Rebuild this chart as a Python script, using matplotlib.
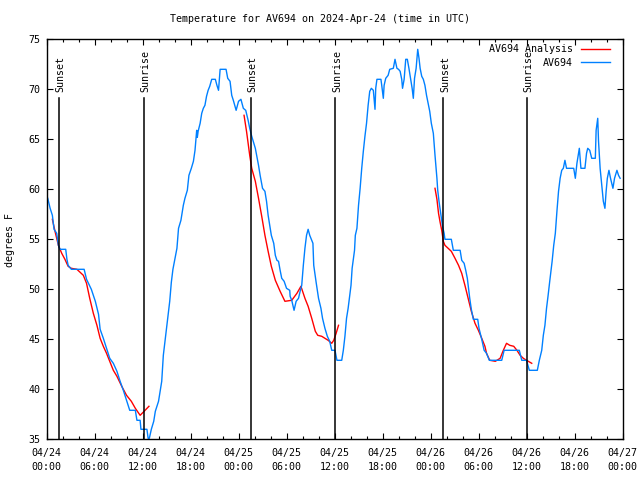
import numpy as np
import pandas as pd
import matplotlib
matplotlib.use("Agg")
import matplotlib.pyplot as plt
import matplotlib.dates as mdates

# hours after 2024-04-24 00:00 UTC
obs_hours = [0.15, 0.45, 0.73, 0.94, 1.27, 1.48, 1.69, 2.40, 2.55, 2.70, 3.10, 4.70, 5.00, 5.30,
             5.60, 6.10, 6.50, 6.70, 7.10, 7.50, 7.90, 8.35, 8.80, 9.20, 9.60, 10.00, 10.40, 11.10,
             11.30, 11.70, 11.80, 12.55, 12.70, 12.85, 13.10, 13.40, 13.60, 14.00, 14.40, 14.60,
             15.00, 15.40, 15.60, 15.80, 16.30, 16.50, 16.80, 17.10, 17.30, 17.60, 17.80, 18.10,
             18.36, 18.56, 18.77, 18.85, 18.95, 19.20, 19.40, 19.60, 19.80, 20.00, 20.20, 20.40,
             20.65, 21.10, 21.30, 21.50, 21.70, 22.44, 22.65, 22.94, 23.15, 23.35, 23.70, 24.00,
             24.30, 24.60, 24.90, 25.20, 25.40, 25.65, 26.10, 26.27, 26.50, 26.70, 27.00, 27.30,
             27.50, 27.70, 27.90, 28.10, 28.40, 28.60, 28.80, 29.00, 29.20, 29.40, 29.70, 30.00,
             30.40, 30.45, 30.65, 30.94, 31.20, 31.50, 31.70, 31.90, 32.10, 32.30, 32.50, 32.70,
             32.90, 33.30, 33.40, 33.70, 34.00, 34.30, 34.50, 34.80, 35.10, 35.40, 35.65, 36.06,
             36.30, 36.90, 37.10, 37.30, 37.50, 37.70, 37.90, 38.06, 38.20, 38.50, 38.60, 38.80,
             39.00, 39.20, 39.40, 39.60, 39.80, 40.00, 40.20, 40.40, 40.60, 40.85, 41.06, 41.15,
             41.30, 41.80, 41.90, 42.10, 42.20, 42.40, 42.70, 42.90, 43.35, 43.56, 43.80, 44.00,
             44.20, 44.40, 44.50, 44.70, 44.90, 45.10, 45.30, 45.50, 45.70, 45.85, 46.00, 46.20,
             46.40, 46.56, 46.70, 46.90, 47.10, 47.30, 47.50, 47.70, 47.90, 48.10, 48.35, 48.56,
             48.80, 48.90, 49.06, 49.30, 49.50, 49.70, 49.80, 50.60, 50.85, 51.70, 51.90, 52.20,
             52.40, 52.60, 52.80, 52.90, 53.10, 53.35, 53.90, 54.06, 54.40, 54.70, 55.00, 55.35,
             56.90, 57.20, 59.10, 59.40, 60.00, 60.35, 61.35, 61.60, 61.90, 62.10, 62.30, 62.50,
             62.70, 62.90, 63.20, 63.40, 63.60, 63.80, 64.00, 64.20, 64.40, 64.60, 64.80, 65.00,
             65.90, 66.10, 66.30, 66.50, 66.60, 66.80, 67.30, 67.50, 67.65, 67.90, 68.15, 68.60,
             68.70, 68.90, 69.00, 69.20, 69.40, 69.60, 69.80, 69.95, 70.10, 70.30, 70.50, 70.80,
             71.00, 71.30, 71.50, 71.70]
obs_temps = [59.1, 58.1, 57.4, 56.0, 55.6, 54.4, 54.0, 54.0, 53.0, 52.4, 52.0, 52.0, 51.0, 50.5,
             50.0, 48.8, 47.5, 46.0, 45.1, 44.1, 43.1, 42.6, 41.8, 40.8, 39.9, 38.9, 37.9, 37.9,
             36.9, 36.9, 36.0, 36.0, 35.1, 35.1, 36.0, 36.8, 37.8, 38.8, 40.8, 43.4,
             46.1, 48.8, 50.7, 52.0, 54.1, 56.1, 56.9, 58.4, 59.1, 59.9, 61.4, 62.1,
             62.8, 63.9, 65.9, 65.2, 65.8, 66.6, 67.6, 68.1, 68.4, 69.3, 69.9, 70.3,
             71.0, 71.0, 70.4, 69.9, 72.0, 72.0, 71.1, 70.8, 69.4, 68.9, 67.9, 68.8,
             69.0, 68.1, 67.9, 66.9, 66.1, 65.3, 64.1, 63.4, 62.4, 61.4, 60.1, 59.8,
             58.8, 57.4, 56.4, 55.4, 54.6, 53.4, 52.9, 52.8, 51.9, 51.1, 50.8, 50.1,
             49.9, 49.3, 48.9, 47.9, 48.8, 49.1, 49.8, 50.4, 52.4, 54.1, 55.4, 56.0,
             55.4, 54.6, 52.4, 50.7, 49.1, 48.1, 47.1, 46.1, 45.3, 44.8, 43.9, 43.9,
             42.9, 42.9, 43.9, 45.3, 47.1, 48.1, 49.4, 50.4, 52.1, 53.9, 55.4, 56.1,
             58.4, 60.1, 62.1, 63.8, 65.3, 66.6, 68.4, 69.8, 70.1, 69.9, 68.0, 70.1,
             71.0, 71.0, 70.4, 69.1, 70.4, 71.1, 71.4, 72.0, 72.1, 73.0, 72.1, 72.0,
             71.8, 71.0, 70.1, 71.0, 73.0, 73.0, 72.1, 71.1, 70.1, 69.1, 71.1, 72.1,
             74.0, 73.1, 72.1, 71.3, 71.0, 70.4, 69.4, 68.6, 67.8, 66.6, 65.6, 63.4,
             61.1, 59.9, 58.8, 57.4, 56.3, 55.6, 55.0, 55.0, 53.9, 53.9, 52.9, 52.6,
             51.9, 51.1, 49.8, 49.1, 48.0, 47.0, 47.0, 46.1, 45.0, 43.9, 43.6, 42.9,
             42.9, 43.9, 43.9, 42.9, 42.9, 41.9, 41.9, 42.9, 43.9, 45.4, 46.4, 48.1,
             49.4, 50.8, 52.8, 54.4, 55.6, 57.8, 59.8, 61.1, 61.9, 62.1, 62.9, 62.1,
             62.1, 61.1, 62.6, 63.6, 64.1, 62.1, 62.1, 63.6, 64.1, 63.9, 63.1, 63.1,
             65.9, 67.1, 64.8, 62.1, 60.4, 58.8, 58.1, 59.8, 61.1, 61.9, 61.1, 60.1,
             61.1, 61.9, 61.4, 61.1]

# analysis series, nan marks a break between runs
ana_hours = [0.73, 1.06, 1.48, 1.90, 2.30, 2.70, 3.10, 3.80, 4.20, 4.60, 5.00, 5.40, 5.85, 6.30,
             6.70, 7.10, 7.50, 7.90, 8.35, 8.80, 9.40, 10.00, 10.60, 11.10, 11.70, 12.20, 12.80,
             np.nan,
             24.69, 25.00, 25.20, 25.40, 25.65, 26.10, 26.50, 26.90, 27.30, 27.70, 28.10, 28.60,
             29.20, 29.80, 30.65, 31.30, 31.80, 32.30, 32.70, 33.15, 33.60, 33.90, 34.40, 34.80,
             35.20, 35.65, 35.90, 36.20, 36.50,
             np.nan,
             48.56, 48.80, 49.00, 49.20, 49.40, 49.60, 49.80, 50.20, 50.60, 51.06, 51.50, 51.90,
             52.30, 52.70, 53.10, 53.56, 53.98, 54.40, 54.80, 55.00, 55.40, 56.10, 56.70, 57.10,
             57.50, 57.90, 58.40, 58.80, 59.20, 59.60, 60.00, 60.65]
ana_temps = [57.0, 55.8, 54.4, 53.6, 53.0, 52.3, 52.1, 52.0, 51.7, 51.4, 50.6, 49.1, 47.6, 46.4,
             45.1, 44.3, 43.6, 42.8, 41.9, 41.3, 40.3, 39.4, 38.8, 38.1, 37.4, 37.8, 38.3,
             np.nan,
             67.4, 65.8, 64.6, 63.4, 62.1, 60.8, 59.1, 57.3, 55.4, 53.8, 52.3, 50.9,
             49.8, 48.8, 48.9, 49.6, 50.3, 49.1, 48.3, 47.1, 45.8, 45.4, 45.3, 45.1,
             44.9, 44.6, 44.9, 45.6, 46.4,
             np.nan,
             60.1, 59.0, 57.6, 56.7, 55.9, 54.8, 54.4, 54.1, 53.8, 53.1, 52.4, 51.6,
             50.4, 49.1, 47.8, 46.6, 45.9, 45.1, 44.3, 43.6, 42.9, 42.8, 43.1, 43.9,
             44.6, 44.4, 44.3, 43.9, 43.4, 43.1, 42.9, 42.6]

sun_hours = [1.50, 12.15, 25.55, 36.12, 49.60, 60.05]
sun_labels = ["Sunset", "Sunrise", "Sunset", "Sunrise", "Sunset", "Sunrise"]

base = pd.Timestamp("2024-04-24 00:00")
def to_time(h):
    return base + pd.to_timedelta(np.asarray(h, dtype=float), unit="h")

plt.rcParams["font.family"] = ["DejaVu Sans Mono"]
plt.rcParams["font.size"] = 7.2

fig = plt.figure(figsize=(6.4, 4.8), dpi=100)
ax = fig.add_axes([0.0727, 0.0848, 0.9, 0.8333])

ax.plot(to_time(ana_hours), ana_temps, color="#ff0000", lw=1.0, label="AV694 Analysis")
ax.plot(to_time(obs_hours), obs_temps, color="#0080ff", lw=1.0, label="AV694")

for h, lab in zip(sun_hours, sun_labels):
    t = to_time([h])[0]
    ax.plot([t, t], [35, 69.1], color="black", lw=1.1)
    ax.text(to_time([h + 0.2])[0], 69.75, lab, rotation=90, ha="center", va="bottom")

ax.set_xlim(base, base + pd.Timedelta(hours=72))
ax.set_ylim(35, 75)
ax.set_yticks(range(35, 76, 5))
ax.xaxis.set_major_locator(mdates.HourLocator(byhour=[0, 6, 12, 18]))
ax.xaxis.set_minor_locator(mdates.HourLocator(interval=2))
ax.xaxis.set_major_formatter(mdates.DateFormatter("%m/%d\n%H:%M"))
for lab in ax.get_xticklabels():
    lab.set_linespacing(1.6)
ax.tick_params(which="both", direction="in", top=True, right=True, width=0.8)
ax.tick_params(which="major", length=4.5)
ax.tick_params(which="minor", length=2.5)
ax.tick_params(axis="x", which="major", pad=6)
ax.tick_params(axis="y", which="major", pad=4.5)
for s in ax.spines.values():
    s.set_linewidth(1.0)

ax.legend(loc="upper right", frameon=False, markerfirst=False, handlelength=2.9,
          labelspacing=0.35, borderaxespad=0.3, bbox_to_anchor=(0.99, 1.005))

fig.text(0.5, 1 - 19 / 480, "Temperature for AV694 on 2024-Apr-24 (time in UTC)",
         ha="center", va="center")
fig.text(10 / 640, 0.5, "degrees F", rotation=90, ha="center", va="center")

fig.savefig("out.png", dpi=100)
